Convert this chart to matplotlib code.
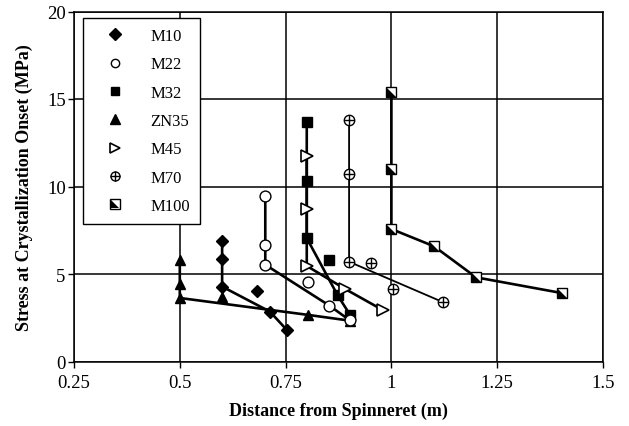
import matplotlib
matplotlib.use("Agg")
import matplotlib.pyplot as plt
from matplotlib.path import Path
from matplotlib.lines import Line2D

plt.rcParams['font.family'] = ['Liberation Serif', 'DejaVu Serif']

# ---- data (connected path per series, plus unconnected points) ----
m10_x = [0.6, 0.6, 0.6, 0.713, 0.753]
m10_y = [6.9, 5.85, 4.28, 2.85, 1.8]
m10_px = [0.682]
m10_py = [4.05]

m22_x = [0.702, 0.702, 0.702, 0.853, 0.902]
m22_y = [9.47, 6.68, 5.53, 3.2, 2.35]
m22_px = [0.802]
m22_py = [4.54]

m32_x = [0.8, 0.8, 0.8, 0.873, 0.902]
m32_y = [13.67, 10.3, 7.05, 3.78, 2.68]
m32_px = [0.853]
m32_py = [5.8]

zn35_x = [0.5, 0.5, 0.5, 0.804, 0.903]
zn35_y = [5.8, 4.43, 3.63, 2.66, 2.33]
zn35_px = [0.6]
zn35_py = [3.68]

m45_x = [0.8, 0.8, 0.8, 0.891, 0.981]
m45_y = [11.75, 8.71, 5.46, 4.14, 2.92]

m70_x = [0.9, 0.9, 0.9, 1.123]
m70_y = [13.82, 10.71, 5.7, 3.38]
m70_px = [0.951, 1.003]
m70_py = [5.61, 4.14]

m100_x = [1.0, 1.0, 1.0, 1.101, 1.2, 1.403]
m100_y = [15.38, 11.0, 7.57, 6.58, 4.81, 3.91]

x_ticks = [0.25, 0.5, 0.75, 1.0, 1.25, 1.5]
x_ticklabels = ['0.25', '0.5', '0.75', '1', '1.25', '1.5']
y_ticks = [0, 5, 10, 15, 20]

# ---- figure ----
fig = plt.figure(figsize=(6.29, 4.27), dpi=100)
ax = fig.add_axes([74/629, 1-362.5/427, (603-74)/629, 350/427])

lw = 1.9
ms = 7

# half-filled square marker piece (lower-left black triangle)
tri = Path([(-1, 1), (-1, -1), (1, -1), (-1, 1)],
           [Path.MOVETO, Path.LINETO, Path.LINETO, Path.CLOSEPOLY])

ax.plot(zn35_x, zn35_y, '-', color='black', lw=lw, zorder=3)
ax.plot(zn35_x, zn35_y, '^', color='black', ms=ms, zorder=4)
ax.plot(zn35_px, zn35_py, '^', color='black', ms=ms, zorder=4)

ax.plot(m10_x, m10_y, '-', color='black', lw=lw, zorder=3)
ax.plot(m10_x, m10_y, 'D', color='black', ms=ms-0.5, zorder=4)
ax.plot(m10_px, m10_py, 'D', color='black', ms=ms-0.5, zorder=4)

ax.plot(m32_x, m32_y, '-', color='black', lw=lw, zorder=3)
ax.plot(m32_x, m32_y, 's', color='black', ms=ms, zorder=4)
ax.plot(m32_px, m32_py, 's', color='black', ms=ms, zorder=4)

ax.plot(m22_x, m22_y, '-', color='black', lw=lw, zorder=3)
ax.plot(m22_x, m22_y, 'o', mfc='white', mec='black', mew=1, ms=ms+0.8, zorder=5)
ax.plot(m22_px, m22_py, 'o', mfc='white', mec='black', mew=1, ms=ms+0.8, zorder=5)

ax.plot(m45_x, m45_y, '-', color='black', lw=lw, zorder=3)
ax.plot(m45_x, m45_y, '>', mfc='white', mec='black', mew=1.2, ms=ms+1, zorder=5)

ax.plot(m70_x, m70_y, '-', color='black', lw=1.3, zorder=3)
for xs, ys in [(m70_x, m70_y), (m70_px, m70_py)]:
    ax.plot(xs, ys, 'o', mfc='white', mec='black', mew=1, ms=ms+0.5, zorder=5)
    ax.plot(xs, ys, '+', color='black', mew=1, ms=ms+0.5, zorder=6)

ax.plot(m100_x, m100_y, '-', color='black', lw=lw, zorder=3)
ax.plot(m100_x, m100_y, 's', mfc='white', mec='black', mew=1, ms=ms+0.5, zorder=5)
ax.plot(m100_x, m100_y, marker=tri, ls='none', color='black', mew=0, ms=ms-0.5, zorder=6)

ax.set_xlim(0.25, 1.5)
ax.set_ylim(0, 20)
ax.set_xticks(x_ticks)
ax.set_xticklabels(x_ticklabels)
ax.set_yticks(y_ticks)
ax.grid(True, color='black', lw=1.1, zorder=1)
ax.set_axisbelow(True)
for s in ax.spines.values():
    s.set_linewidth(1.1)
ax.tick_params(direction='out', length=4, width=1, labelsize=13.5)
ax.tick_params(axis='x', pad=5)
ax.tick_params(axis='y', pad=2)

ax.set_xlabel('Distance from Spinneret (m)', fontsize=13, fontweight='bold', labelpad=8)
ax.set_ylabel('Stress at Crystallization Onset (MPa)', fontsize=13, fontweight='bold', labelpad=10)

# legend
h = [
    Line2D([], [], ls='none', marker='D', color='black', ms=ms-0.5),
    Line2D([], [], ls='none', marker='o', mfc='white', mec='black', mew=1, ms=ms-1),
    Line2D([], [], ls='none', marker='s', color='black', ms=ms-1),
    Line2D([], [], ls='none', marker='^', color='black', ms=ms),
    Line2D([], [], ls='none', marker='>', mfc='white', mec='black', mew=1.2, ms=ms),
    (Line2D([], [], ls='none', marker='o', mfc='white', mec='black', mew=1, ms=ms-0.5),
     Line2D([], [], ls='none', marker='+', color='black', mew=1, ms=ms-0.5)),
    (Line2D([], [], ls='none', marker='s', mfc='white', mec='black', mew=1, ms=ms-0.5),
     Line2D([], [], ls='none', marker=tri, color='black', mew=0, ms=ms-1.5)),
]
labels = ['M10', 'M22', 'M32', 'ZN35', 'M45', 'M70', 'M100']
leg = ax.legend(h, labels, loc='upper left', bbox_to_anchor=(0.017, 0.981),
                fontsize=12, frameon=True, fancybox=False, edgecolor='black',
                framealpha=1, labelspacing=0.74, handletextpad=0.85,
                borderpad=0.6, handlelength=2.6, borderaxespad=0)
leg.get_frame().set_linewidth(1.0)
leg.set_zorder(10)

fig.savefig('out.png', dpi=100)
